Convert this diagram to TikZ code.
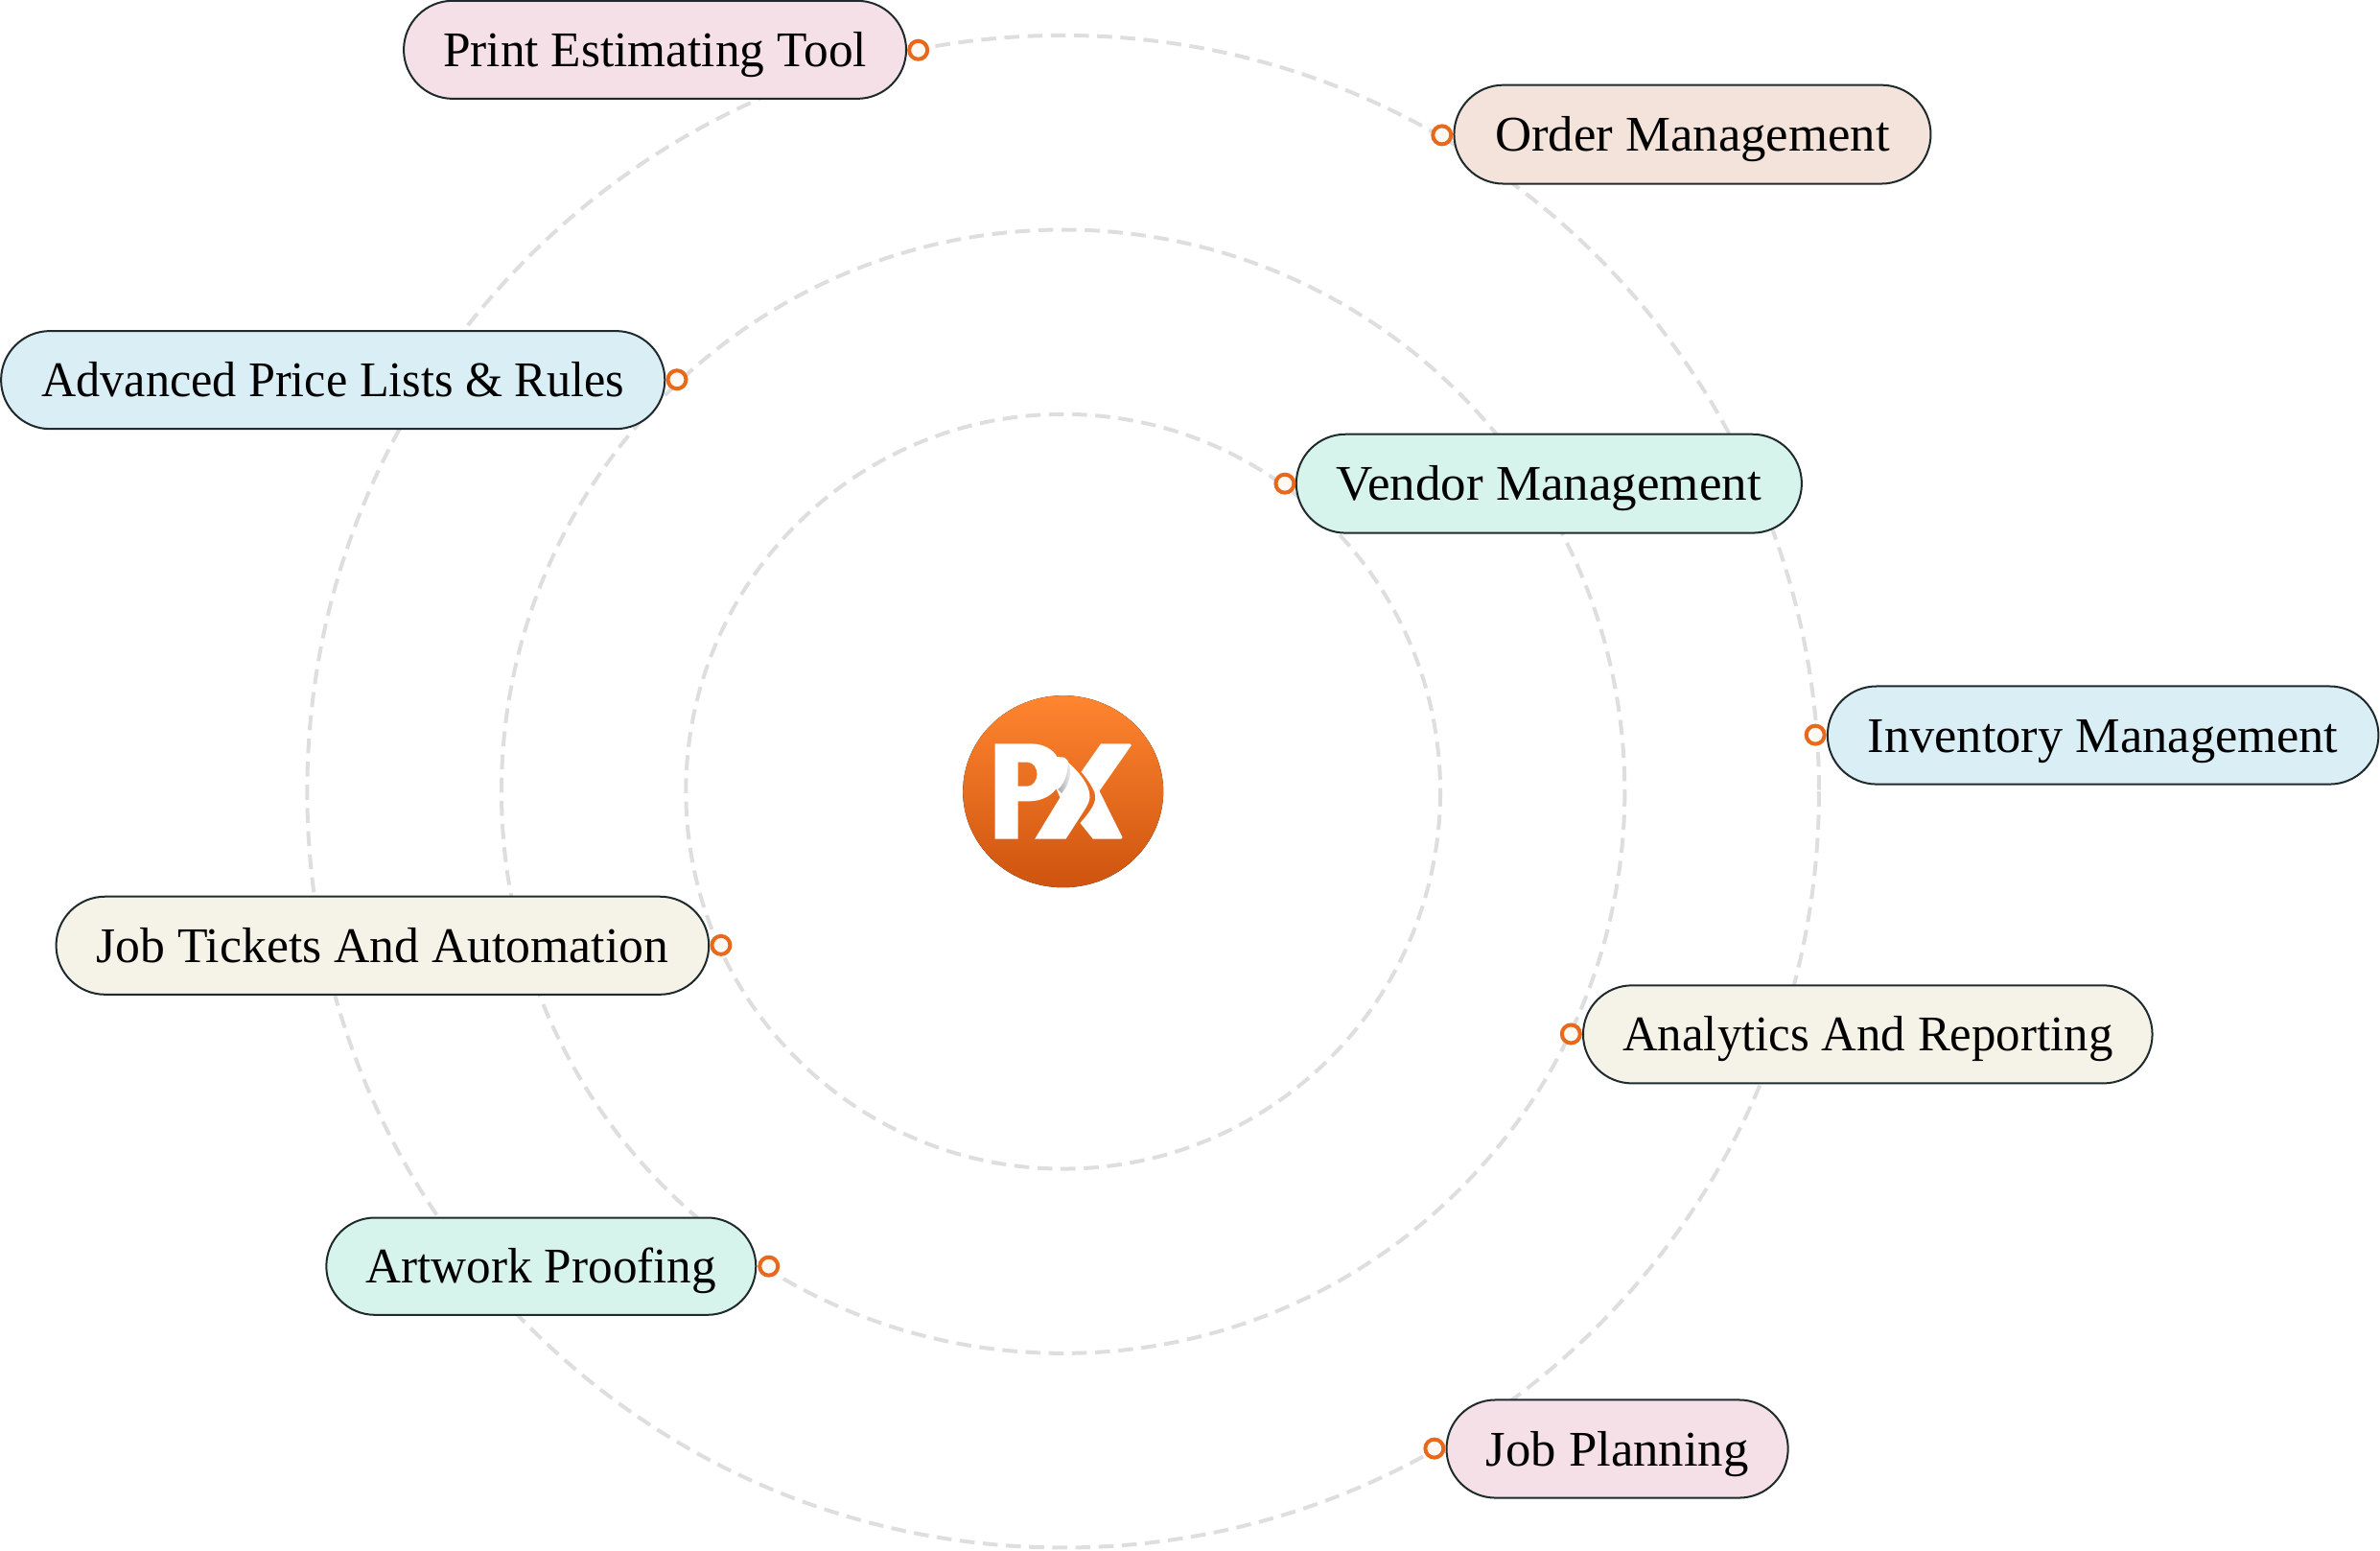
\documentclass[tikz,border=0pt]{standalone}
\usepackage{fontspec}
\usepackage{graphicx}
\setmainfont{Liberation Serif}
\usetikzlibrary{shapes.misc}
\definecolor{ringgray}{HTML}{DEDEDE}
\definecolor{pilledge}{HTML}{1F2A2C}
\definecolor{dotorange}{HTML}{E8691C}
\definecolor{dotfill}{HTML}{FFF9F4}
\definecolor{pinkfill}{HTML}{F4E0E6}
\definecolor{peachfill}{HTML}{F3E3DA}
\definecolor{bluefill}{HTML}{DAEEF6}
\definecolor{mintfill}{HTML}{D7F4EC}
\definecolor{creamfill}{HTML}{F5F3E8}
\definecolor{logotop}{HTML}{FF8530}
\definecolor{logobot}{HTML}{CE540F}
\newlength{\uu}\setlength{\uu}{0.7915pt}
\newlength{\lu}\setlength{\lu}{0.16669pt}
\tikzset{
  ring/.style={draw=ringgray,line width=2pt,dash pattern=on 7.8pt off 4.3pt,fill=none},
  pill/.style={rounded rectangle,draw=pilledge,line width=1pt,inner sep=0pt,text=black,
    font=\fontsize{26}{30}\selectfont,text height=17.5pt,text depth=0pt},
  dot/.style={circle,draw=dotorange,fill=dotfill,line width=2pt,minimum size=9.5pt,inner sep=0pt},
  logowhite/.style={fill=white,draw=none},
}
\newcommand{\pillnode}[8]{%
  \pgfmathsetmacro{\cxx}{(#2+#4)/2}%
  \pgfmathsetmacro{\cyy}{(#3+#5)/2}%
  \pgfmathsetlengthmacro{\ww}{(#4-#2)*\uu}%
  \pgfmathsetlengthmacro{\hh}{(#5-#3)*\uu}%
  \pgfmathsetlengthmacro{\tw}{#7*\uu}%
  \node[pill,fill=#6,minimum width=\ww,minimum height=\hh] (#1) at (\cxx,\cyy) {\resizebox{\tw}{\height}{#8}};%
}
\begin{document}
\begin{tikzpicture}[x=\uu,y=-\uu]
\useasboundingbox (0,0) rectangle (1568,1021);
\coordinate (hub) at (700.4,521.3);
\draw[ring] (hub) circle[radius=248.5];
\draw[ring] (hub) circle[radius=370];
\draw[ring] (hub) circle[radius=498];
% pills
\pillnode{print}{266}{0.5}{597}{65}{pinkfill}{279}{Print Estimating Tool}
\pillnode{order}{958}{56}{1272}{121}{peachfill}{260}{Order Management}
\pillnode{advanced}{0.7}{218}{438}{282.5}{bluefill}{384}{Advanced Price Lists \& Rules}
\pillnode{vendor}{854}{286}{1187}{351}{mintfill}{280}{Vendor Management}
\pillnode{inventory}{1204}{452}{1567}{516.5}{bluefill}{310}{Inventory Management}
\pillnode{tickets}{37}{590.5}{467}{655}{creamfill}{377}{Job Tickets And Automation}
\pillnode{analytics}{1043}{649}{1418}{713.5}{creamfill}{323}{Analytics And Reporting}
\pillnode{artwork}{215}{802}{498}{866}{mintfill}{231}{Artwork Proofing}
\pillnode{planning}{953}{922}{1178}{986.5}{pinkfill}{173}{Job Planning}
% dots
\node[dot] (d1) at (605,33) {};
\node[dot] (d2) at (950,89) {};
\node[dot] (d3) at (446,250) {};
\node[dot] (d4) at (846.5,318.5) {};
\node[dot] (d5) at (1196,484) {};
\node[dot] (d6) at (475,622.5) {};
\node[dot] (d7) at (1035,681) {};
\node[dot] (d8) at (506.5,834) {};
\node[dot] (d9) at (945,954) {};
% logo
\fill[top color=logotop,bottom color=logobot] (hub) ellipse[x radius=66,y radius=63.2];
\begin{scope}[shift={(hub)}]
\begin{scope}[x=\lu,y=-\lu,shift={(-446.5,-406.5)}]
\fill[logowhite,even odd rule]
  (233,257) -- (345,257) .. controls (385,257) and (415,275) .. (428,298)
  -- (450,300) .. controls (458,304) and (462,312) .. (465,318)
  .. controls (490,340) and (532,385) .. (530,425) .. controls (528,440) and (522,450) .. (515,462)
  -- (455,555) -- (358,555) -- (437,425) -- (425,398)
  .. controls (405,425) and (370,437) .. (340,437) -- (305,437) -- (305,555) -- (233,555) -- cycle
  (305,315) -- (335,315) .. controls (355,315) and (365,335) .. (365,352)
  .. controls (365,372) and (352,390) .. (335,390) -- (305,390) -- cycle;
\fill[logowhite]
  (565,257) -- (655,257) -- (660,262) -- (560,405) -- (632,550) -- (628,555) -- (540,555) -- (500,505)
  .. controls (530,470) and (555,440) .. (545,410) .. controls (535,385) and (520,365) .. (503,345) -- cycle;
\shade[left color=gray!70,right color=white]
  (462,318) .. controls (478,345) and (465,385) .. (442,412) -- (430,400) .. controls (450,385) and (462,350) .. (462,318) -- cycle;
\end{scope}
\end{scope}
\end{tikzpicture}
\end{document}
